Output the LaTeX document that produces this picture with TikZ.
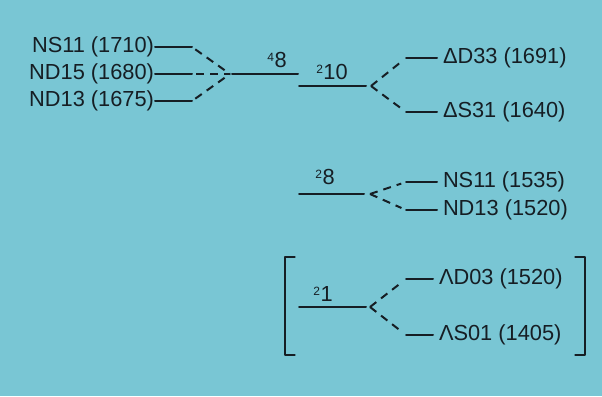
\documentclass[tikz,border=0pt]{standalone}
\usepackage{fontspec}
\setmainfont{Liberation Sans}
\usetikzlibrary{calc,positioning}
\definecolor{bgcyan}{RGB}{121,198,212}
\definecolor{ink}{RGB}{22,30,36}
\newcommand{\sups}[1]{\raisebox{6.5pt}{\fontsize{12}{12}\selectfont #1}\kern0.5pt}

\begin{document}
\begin{tikzpicture}[x=1pt,y=-1pt,line join=round,line cap=round,
  lvl/.style={ink,line width=2pt},
  split/.style={ink,line width=2pt,line cap=butt,dash pattern=on 8pt off 6pt},
  lab/.style={ink,inner sep=0pt,font=\fontsize{21.8}{22}\selectfont},
  llab/.style={lab,anchor=east,outer sep=1pt},
  rlab/.style={lab,anchor=west,outer sep=6pt}]
  \fill[bgcyan] (0,0) rectangle (602,396);
  \useasboundingbox (0,0) rectangle (602,396);

  % quartet on the left
  \node[llab] (ns11a) at (155,47) {NS11 (1710)};
  \node[llab] (nd15a) at (155,74) {ND15 (1680)};
  \node[llab] (nd13a) at (155,101) {ND13 (1675)};
  \coordinate (ns11r) at (192,47);
  \coordinate (nd15r) at (192,74);
  \coordinate (nd13r) at (192,101);
  \coordinate (q4) at (230,74);
  \draw[lvl] (ns11a) -- (ns11r);
  \draw[lvl] (nd15a) -- (nd15r);
  \draw[lvl] (nd13a) -- (nd13r);
  \draw[split,shorten <=4pt] (ns11r) -- (q4);
  \draw[split,shorten <=4pt] (nd15r) -- (q4);
  \draw[split,shorten <=4pt] (nd13r) -- (q4);
  \coordinate (q4r) at (298,74);
  \draw[lvl,shorten <=2pt] (q4) -- (q4r);
  \node[lab] (t48) at (277,60) {\sups{4}8};

  % doublet 10
  \coordinate (d10l) at (299,86);
  \coordinate (d10r) at (366,86);
  \coordinate (d10s) at (371,86);
  \draw[lvl] (d10l) -- (d10r);
  \node[lab] (t210) at (332,72) {\sups{2}10};
  \coordinate (d33l) at (406,58);
  \coordinate (s31l) at (406,112);
  \node[rlab] (d33) at (437,58) {ΔD33 (1691)};
  \node[rlab] (s31) at (437,112) {ΔS31 (1640)};
  \draw[split,shorten >=5pt] (d10s) -- (d33l);
  \draw[split,shorten >=5pt] (d10s) -- (s31l);
  \draw[lvl] (d33l) -- (d33);
  \draw[lvl] (s31l) -- (s31);

  % octet
  \coordinate (n8l) at (299,194);
  \coordinate (n8r) at (364,194);
  \coordinate (n8s) at (370,194);
  \draw[lvl] (n8l) -- (n8r);
  \node[lab] (t28) at (325,177) {\sups{2}8};
  \coordinate (ns11bl) at (406,182);
  \coordinate (nd13bl) at (406,210);
  \node[rlab] (ns11b) at (437,182) {NS11 (1535)};
  \node[rlab] (nd13b) at (437,210) {ND13 (1520)};
  \draw[split,shorten >=5pt] (n8s) -- (ns11bl);
  \draw[split,shorten >=5pt] (n8s) -- (nd13bl);
  \draw[lvl] (ns11bl) -- (ns11b);
  \draw[lvl] (nd13bl) -- (nd13b);

  % singlet
  \coordinate (s1l) at (299,307);
  \coordinate (s1r) at (366,307);
  \coordinate (s1s) at (370,307);
  \draw[lvl] (s1l) -- (s1r);
  \node[lab] (t21) at (323,294) {\sups{2}1};
  \coordinate (d03l) at (406,279);
  \coordinate (s01l) at (406,335);
  \node[rlab] (d03) at (433,279) {ΛD03 (1520)};
  \node[rlab] (s01) at (433,335) {ΛS01 (1405)};
  \draw[split,shorten >=5pt] (s1s) -- (d03l);
  \draw[split,shorten >=5pt] (s1s) -- (s01l);
  \draw[lvl] (d03l) -- (d03);
  \draw[lvl] (s01l) -- (s01);

  % brackets
  \draw[ink,line width=1.3pt] (295,257) -- (285,257) -- (285,355) -- (295,355);
  \draw[ink,line width=1.3pt] (575,257) -- (585,257) -- (585,355) -- (575,355);
\end{tikzpicture}
\end{document}
